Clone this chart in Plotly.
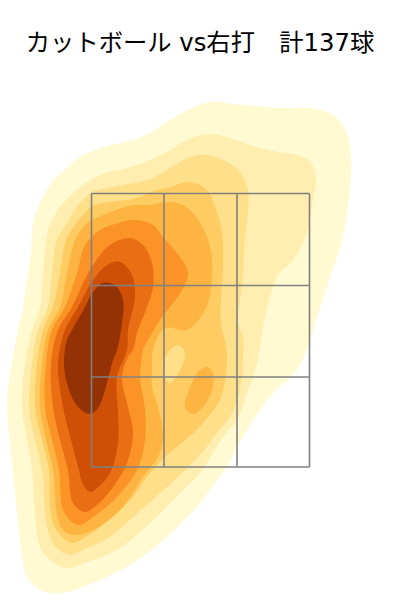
import plotly.graph_objects as go

title_text = "カットボール vs右打　計137球"
level_colors = ["#FFFAD2", "#FFEEAF", "#FEDF8A", "#FECC62", "#FEB441", "#FC9327", "#EA6E13", "#CE4F05", "#933204"]
hole_color = "#FEDF8A"
zone_xs = [91.5, 164, 237, 309.5]
zone_ys = [193.5, 285.5, 377, 467]

l1_x = [213,243,283,317,333,347,351,350,342,330,317,310,297,273,253,237,227,217,200,167,133,100,67,50,37,27,22,18,13,8,7,12,18,23,28,31,33,40,52,68,80,107,133,150,173,200]
l1_y = [102,105,108,109,115,133,157,190,240,277,317,340,370,393,420,447,467,480,503,537,563,580,592,593,588,577,557,523,473,423,400,363,330,307,273,250,223,203,182,167,157,146,140,133,118,105]
l2_x = [210,227,250,273,297,310,316,313,307,293,278,270,263,257,247,237,223,200,183,150,117,87,65,45,38,35,32,27,22,25,32,40,43,46,50,60,77,100,127,150,170,193]
l2_y = [134,137,145,151,155,162,177,200,233,260,275,297,327,363,393,420,437,473,490,523,550,562,568,555,540,513,470,440,407,363,330,307,273,240,225,207,190,175,168,160,150,137]
l3_x = [207,227,240,248,248,245,242,238,243,243,242,237,230,217,200,167,133,110,87,70,57,50,45,42,35,29,32,38,48,52,57,66,78,92,108,127,150,170,190]
l3_y = [155,162,172,190,210,240,285,323,337,353,377,400,417,433,455,487,517,537,548,555,548,537,513,470,440,407,363,330,307,273,240,225,205,192,188,184,179,168,157]
l4_x = [190,207,215,222,223,221,221,227,225,220,203,183,165,147,133,100,77,73,62,53,50,49,42,35,37,43,53,60,66,75,85,92,110,133,157,167]
l4_y = [182,190,207,233,267,297,323,353,380,400,423,442,457,477,497,527,542,543,537,523,503,470,440,407,363,330,307,273,240,225,213,206,202,199,190,188]
hole_x = [178,185,180,170,165,163,170]
hole_y = [345,352,370,383,378,363,350]
l5_x = [167,183,197,207,212,211,205,187,165,153,152,152,158,163,160,143,123,97,77,65,58,53,46,40,42,48,60,67,75,85,92,110,133,150]
l5_y = [202,205,218,237,260,287,310,330,328,350,370,387,407,433,453,477,507,528,535,532,520,470,440,407,363,330,307,273,240,225,220,212,205,205]
blob_x = [207,213,212,203,193,185,188,198]
blob_y = [367,373,390,407,414,408,393,372]
l6_x = [133,153,163,177,188,182,170,160,150,143,142,140,145,145,137,117,93,80,72,63,59,52,45,46,52,65,77,85,100,115]
l6_y = [220,225,237,253,273,290,307,320,337,350,357,377,410,440,470,497,517,525,522,510,470,440,407,363,330,307,273,245,230,224]
l7_x = [130,143,152,153,147,137,133,128,122,128,133,127,113,97,85,73,68,60,53,51,58,72,90,110]
l7_y = [238,245,263,287,307,333,350,357,377,407,433,463,487,505,512,503,470,440,407,363,330,307,270,245]
l8_x = [120,132,135,128,127,117,118,118,110,97,90,82,79,71,63,58,65,78,92,107]
l8_y = [262,275,297,330,350,377,413,443,473,488,492,482,470,440,407,363,330,307,282,265]
l9_x = [103,115,123,122,117,113,105,98,90,78,68,64,67,72,85,92]
l9_y = [283,285,300,323,350,360,390,408,414,407,387,363,340,330,307,293]


def region(xs, ys, color):
    return go.Scatter(
        x=xs + xs[:1], y=ys + ys[:1], mode="lines", fill="toself", fillcolor=color,
        line=dict(color=color, width=0, shape="spline", smoothing=1.0), hoverinfo="skip", showlegend=False,
    )


fig = go.Figure()
fig.add_trace(region(l1_x, l1_y, level_colors[0]))
fig.add_trace(region(l2_x, l2_y, level_colors[1]))
fig.add_trace(region(l3_x, l3_y, level_colors[2]))
fig.add_trace(region(l4_x, l4_y, level_colors[3]))
fig.add_trace(region(hole_x, hole_y, hole_color))
fig.add_trace(region(l5_x, l5_y, level_colors[4]))
fig.add_trace(region(blob_x, blob_y, level_colors[4]))
fig.add_trace(region(l6_x, l6_y, level_colors[5]))
fig.add_trace(region(l7_x, l7_y, level_colors[6]))
fig.add_trace(region(l8_x, l8_y, level_colors[7]))
fig.add_trace(region(l9_x, l9_y, level_colors[8]))

for x in zone_xs:
    fig.add_trace(go.Scatter(x=[x, x], y=[zone_ys[0], zone_ys[-1]], mode="lines",
                             line=dict(color="#808080", width=1.6), hoverinfo="skip", showlegend=False))
for y in zone_ys:
    fig.add_trace(go.Scatter(x=[zone_xs[0], zone_xs[-1]], y=[y, y], mode="lines",
                             line=dict(color="#808080", width=1.6), hoverinfo="skip", showlegend=False))

fig.update_layout(
    width=400, height=600, margin=dict(l=0, r=0, t=0, b=0),
    paper_bgcolor="white", plot_bgcolor="white",
    xaxis=dict(range=[0, 400], visible=False),
    yaxis=dict(range=[600, 0], visible=False),
    title=dict(text=title_text, x=0.5, xanchor="center", y=1 - 42 / 600, yanchor="middle",
               font=dict(family="DejaVu Sans, Noto Sans CJK JP", size=24.3, color="black")),
)
fig.write_html("out.html", config={"displayModeBar": False},
               post_script="document.body.style.margin='0';")
